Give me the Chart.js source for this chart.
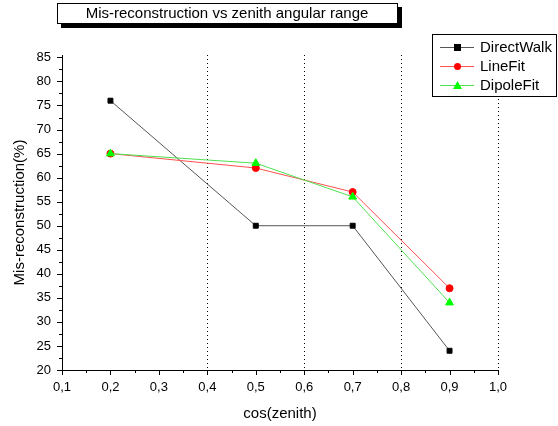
<!DOCTYPE html>
<html>
<head>
<meta charset="utf-8">
<script src="https://cdn.jsdelivr.net/npm/chart.js@4/dist/chart.umd.min.js"></script>
<style>
	html, body { margin: 0; padding: 0; background: #fff; }
	#wrap { width: 558px; height: 426px; position: relative; }
</style>
</head>
<body>
<div id="wrap"><canvas id="chart"></canvas></div>
<script>
const zenithCos = [0.2, 0.5, 0.7, 0.9];
const directWalk = [76, 50, 50, 24];
const lineFit = [65, 62, 57, 37];
const dipoleFit = [65, 63, 56, 34];

const xTicks = [0.1, 0.2, 0.3, 0.4, 0.5, 0.6, 0.7, 0.8, 0.9, 1.0];
const yTicks = [20, 25, 30, 35, 40, 45, 50, 55, 60, 65, 70, 75, 80, 85];
const xGridAt = [0.4, 0.6, 0.8, 1.0];

const FONT = "'Liberation Sans', Arial, sans-serif";

const toPoints = vals => vals.map((v, i) => ({ x: zenithCos[i], y: v }));

// title box with drop shadow (Origin style)
const titleBox = {
	id: "titleBox",
	afterDraw(chart) {
		const ctx = chart.ctx;
		ctx.save();
		ctx.fillStyle = "#000";
		ctx.fillRect(61, 7, 341, 21);
		ctx.fillStyle = "#fff";
		ctx.fillRect(57, 3, 341, 21);
		ctx.strokeStyle = "#000";
		ctx.lineWidth = 1;
		ctx.strokeRect(57.5, 3.5, 340, 20);
		ctx.fillStyle = "#000";
		ctx.font = "15px " + FONT;
		ctx.textAlign = "center";
		ctx.textBaseline = "middle";
		ctx.fillText("Mis-reconstruction vs zenith angular range", 227, 14);
		ctx.restore();
	},
};

// legend box at the top right
const legendBox = {
	id: "legendBox",
	afterDraw(chart) {
		const ctx = chart.ctx;
		ctx.save();
		ctx.fillStyle = "#fff";
		ctx.fillRect(432, 34, 126, 63);
		ctx.strokeStyle = "#000";
		ctx.lineWidth = 1;
		ctx.strokeRect(432.5, 34.5, 124, 62);
		ctx.font = "15px " + FONT;
		ctx.textBaseline = "middle";
		chart.data.datasets.forEach((ds, i) => {
			const y = 47 + i * 19;
			ctx.strokeStyle = ds.borderColor;
			ctx.lineWidth = 1;
			ctx.beginPath();
			ctx.moveTo(440, y + 0.5);
			ctx.lineTo(474, y + 0.5);
			ctx.stroke();
			ctx.fillStyle = ds.pointBackgroundColor;
			const cx = 457;
			if (ds.pointStyle === "rect") {
				ctx.fillRect(cx - 3, y - 3, 7, 7);
			} else if (ds.pointStyle === "circle") {
				ctx.beginPath();
				ctx.arc(cx + 0.5, y + 0.5, 3.5, 0, Math.PI * 2);
				ctx.fill();
			} else {
				ctx.beginPath();
				ctx.moveTo(cx + 0.5, y - 4);
				ctx.lineTo(cx + 5, y + 4);
				ctx.lineTo(cx - 4, y + 4);
				ctx.closePath();
				ctx.fill();
			}
			ctx.fillStyle = "#000";
			ctx.fillText(ds.label, 480, y + 1);
		});
		ctx.restore();
	},
};

// outward major and minor tick marks
const tickMarks = {
	id: "tickMarks",
	afterDraw(chart) {
		const ctx = chart.ctx;
		const xs = chart.scales.x;
		const ys = chart.scales.y;
		const area = chart.chartArea;
		ctx.save();
		ctx.strokeStyle = "#000";
		ctx.lineWidth = 1;
		ctx.beginPath();
		xTicks.forEach((v, i) => {
			const px = Math.round(xs.getPixelForValue(v)) + 0.5;
			ctx.moveTo(px, area.bottom);
			ctx.lineTo(px, area.bottom + 5);
			if (i < xTicks.length - 1) {
				const mx = Math.round(xs.getPixelForValue((v + xTicks[i + 1]) / 2)) + 0.5;
				ctx.moveTo(mx, area.bottom);
				ctx.lineTo(mx, area.bottom + 3);
			}
		});
		yTicks.forEach((v, i) => {
			const py = Math.round(ys.getPixelForValue(v)) + 0.5;
			ctx.moveTo(area.left, py);
			ctx.lineTo(area.left - 5, py);
			const mid = i < yTicks.length - 1 ? (v + yTicks[i + 1]) / 2 : v + 2.5;
			if (mid <= ys.max) {
				const my = Math.round(ys.getPixelForValue(mid)) + 0.5;
				ctx.moveTo(area.left, my);
				ctx.lineTo(area.left - 3, my);
			}
		});
		ctx.stroke();
		ctx.restore();
	},
};

new Chart(document.getElementById("chart"), {
	type: "line",
	data: {
		datasets: [
			{
				label: "DirectWalk",
				data: toPoints(directWalk),
				borderColor: "#555",
				backgroundColor: "#000",
				pointBackgroundColor: "#000",
				pointBorderColor: "#000",
				pointStyle: "rect",
				pointRadius: 3.5,
				borderWidth: 1,
				order: 2,
			},
			{
				label: "LineFit",
				data: toPoints(lineFit),
				borderColor: "#ff5050",
				backgroundColor: "#f00",
				pointBackgroundColor: "#f00",
				pointBorderColor: "#f00",
				pointStyle: "circle",
				pointRadius: 3.5,
				borderWidth: 1,
				order: 1,
			},
			{
				label: "DipoleFit",
				data: toPoints(dipoleFit),
				borderColor: "#50e050",
				backgroundColor: "#0f0",
				pointBackgroundColor: "#00ff00",
				pointBorderColor: "#00ff00",
				pointStyle: "triangle",
				pointRadius: 4.5,
				borderWidth: 1,
				order: 0,
			},
		],
	},
	options: {
		responsive: true,
		maintainAspectRatio: false,
		animation: false,
		layout: { padding: { left: 0, top: 55, right: 60, bottom: 0 } },
		elements: { line: { tension: 0, fill: false } },
		plugins: {
			legend: { display: false },
			tooltip: { enabled: false },
		},
		scales: {
			x: {
				type: "linear",
				min: 0.1,
				max: 1.0,
				afterBuildTicks: scale => {
					scale.ticks = xTicks.map(v => ({ value: v }));
				},
				afterFit: scale => {
					scale.height = 56;
				},
				ticks: {
					padding: 10,
					color: "#000",
					font: { family: FONT, size: 13 },
					maxRotation: 0,
					callback: v => v.toFixed(1).replace(".", ","),
				},
				grid: {
					drawTicks: false,
					color: c =>
						c.tick && xGridAt.some(g => Math.abs(g - c.tick.value) < 1e-6)
							? "#000"
							: "rgba(0,0,0,0)",
					lineWidth: 1,
				},
				border: { display: true, color: "#000", width: 1, dash: [1, 3] },
				title: {
					display: true,
					text: "cos(zenith)",
					color: "#000",
					font: { family: FONT, size: 15 },
					padding: { top: 4, bottom: 3 },
				},
			},
			y: {
				min: 20,
				max: 85.5,
				afterBuildTicks: scale => {
					scale.ticks = yTicks.map(v => ({ value: v }));
				},
				afterFit: scale => {
					scale.width = 62;
				},
				ticks: {
					padding: 11,
					color: "#000",
					font: { family: FONT, size: 13 },
				},
				grid: { display: false, drawTicks: false },
				border: { display: true, color: "#000", width: 1 },
				title: {
					display: true,
					text: "Mis-reconstruction(%)",
					color: "#000",
					font: { family: FONT, size: 15 },
					padding: { top: 11, bottom: 0 },
				},
			},
		},
	},
	plugins: [tickMarks, titleBox, legendBox],
});
</script>
</body>
</html>
